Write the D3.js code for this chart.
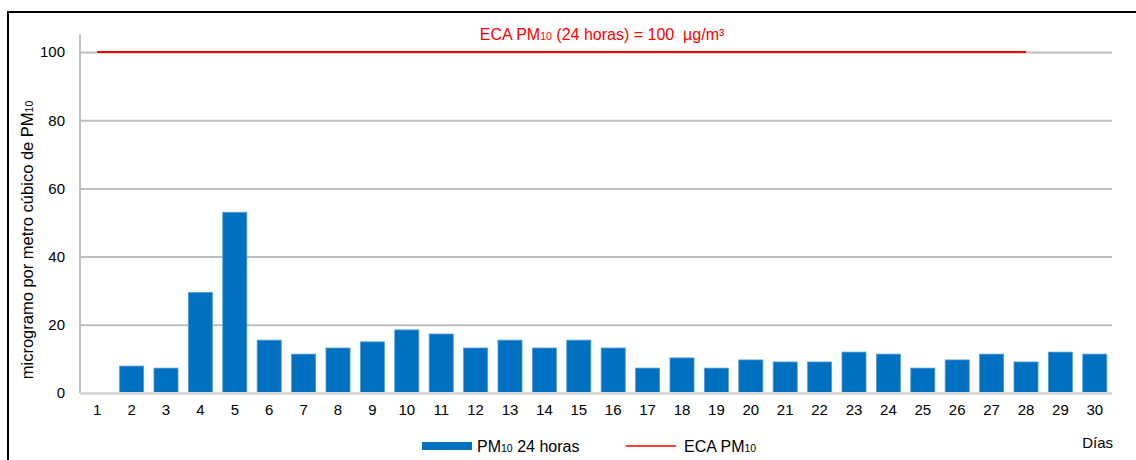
<!DOCTYPE html>
<html>
<head>
<meta charset="utf-8">
<script src="https://cdn.jsdelivr.net/npm/d3@7"></script>
<style>
  html, body { margin: 0; padding: 0; background: #fff; }
  svg { display: block; font-family: "Liberation Sans", Arial, sans-serif; }
</style>
</head>
<body>
<svg id="chart" width="1136" height="460"></svg>
<script>
const days = ["1","2","3","4","5","6","7","8","9","10","11","12","13","14","15","16","17","18","19","20","21","22","23","24","25","26","27","28","29","30"];
const pm10 = [null, 7.9, 7.3, 29.5, 53, 15.5, 11.4, 13.2, 15, 18.5, 17.3, 13.2, 15.5, 13.2, 15.5, 13.2, 7.3, 10.3, 7.3, 9.7, 9.1, 9.1, 12, 11.4, 7.3, 9.7, 11.4, 9.1, 12, 11.4];
const ecaDays = ["1","2","3","4","5","6","7","8","9","10","11","12","13","14","15","16","17","18","19","20","21","22","23","24","25","26","27","28"];
const ecaValues = [100,100,100,100,100,100,100,100,100,100,100,100,100,100,100,100,100,100,100,100,100,100,100,100,100,100,100,100];
const yTicks = [0, 20, 40, 60, 80, 100];

(function () {
const svg = d3.select("#chart");
const mLeft = 80, mRight = 1112, mTop = 52, mBottom = 393;
const FS = 15, FL = 16, SUB = 10.5;

// outer frame (only top and left visible)
svg.append("rect").attr("x", 8).attr("y", 12).attr("width", 1140).attr("height", 460)
  .attr("fill", "none").attr("stroke", "#000").attr("stroke-width", 2);

const x = d3.scaleBand().domain(days).range([mLeft, mRight]).paddingInner(0.3).paddingOuter(0.15);
const y = d3.scaleLinear().domain([0, 100]).range([mBottom, mTop]);

// gridlines
const yAxis = d3.axisLeft(y).tickValues(yTicks).tickSize(-(mRight - mLeft)).tickPadding(15).tickFormat(d3.format("d"));
const gy = svg.append("g").attr("transform", `translate(${mLeft},0)`).call(yAxis);
gy.select(".domain").remove();
gy.selectAll(".tick line").attr("stroke", "#bfbfbf").attr("stroke-width", 2);
gy.selectAll(".tick text").attr("fill", "#000").attr("font-size", FS).style("font-family", "Liberation Sans, Arial, sans-serif");

// y axis line
svg.append("line").attr("x1", mLeft).attr("x2", mLeft).attr("y1", 34).attr("y2", mBottom)
  .attr("stroke", "#bfbfbf").attr("stroke-width", 2);

// bars
svg.append("g").selectAll("rect")
  .data(days.map((d, i) => ({ day: d, v: pm10[i] })).filter(d => d.v != null))
  .join("rect")
  .attr("x", d => x(d.day))
  .attr("width", x.bandwidth())
  .attr("y", d => y(d.v))
  .attr("height", d => y(0) - y(d.v))
  .attr("fill", "#0070C0")
  .attr("stroke", "#5a9bd5")
  .attr("stroke-width", 0.8);

// x axis
const xAxis = d3.axisBottom(x).tickSize(0).tickPadding(11);
const gx = svg.append("g").attr("transform", `translate(0,${mBottom})`).call(xAxis);
gx.select(".domain").remove();
gx.selectAll(".tick text").attr("fill", "#000").attr("font-size", FS).style("font-family", "Liberation Sans, Arial, sans-serif");
svg.append("line").attr("x1", mLeft).attr("x2", mRight).attr("y1", mBottom).attr("y2", mBottom)
  .attr("stroke", "#d9d9d9").attr("stroke-width", 2);

// ECA line
const line = d3.line().x(d => x(d.day) + x.bandwidth() / 2).y(d => y(d.v));
svg.append("path")
  .datum(ecaDays.map((d, i) => ({ day: d, v: ecaValues[i] })))
  .attr("d", line).attr("fill", "none").attr("stroke", "#ff0000").attr("stroke-width", 2);

// helper for text with subscript
function subText(g, parts, attrs) {
  const t = g.append("text").style("white-space", "pre");
  Object.entries(attrs).forEach(([k, v]) => t.attr(k, v));
  parts.forEach(p => {
    const s = t.append("tspan").text(p.t);
    if (p.sub) s.attr("font-size", SUB);
  });
  return t;
}

// ECA annotation
subText(svg, [{t: "ECA PM"}, {t: "10", sub: true}, {t: " (24 horas) = 100  µg/m³"}],
  { x: 602, y: 40, "text-anchor": "middle", "font-size": FL, fill: "#ff0000" });

// y axis title
subText(svg, [{t: "microgramo por metro cúbico de PM"}, {t: "10", sub: true}],
  { transform: "translate(33,240) rotate(-90)", "text-anchor": "middle", "font-size": 16.5, fill: "#000" });

// x axis title
svg.append("text").attr("x", 1113).attr("y", 448).attr("text-anchor", "end")
  .attr("font-size", FS).attr("fill", "#000").text("Días");

// legend
svg.append("rect").attr("x", 422).attr("y", 442).attr("width", 50).attr("height", 8).attr("fill", "#0070C0");
subText(svg, [{t: "PM"}, {t: "10", sub: true}, {t: " 24 horas"}],
  { x: 477, y: 452, "font-size": FL, fill: "#000" });
svg.append("line").attr("x1", 626).attr("x2", 676).attr("y1", 446).attr("y2", 446)
  .attr("stroke", "#ff0000").attr("stroke-width", 1.5);
subText(svg, [{t: "ECA PM"}, {t: "10", sub: true}],
  { x: 684, y: 452, "font-size": FL, fill: "#000" });
})();
</script>
</body>
</html>
